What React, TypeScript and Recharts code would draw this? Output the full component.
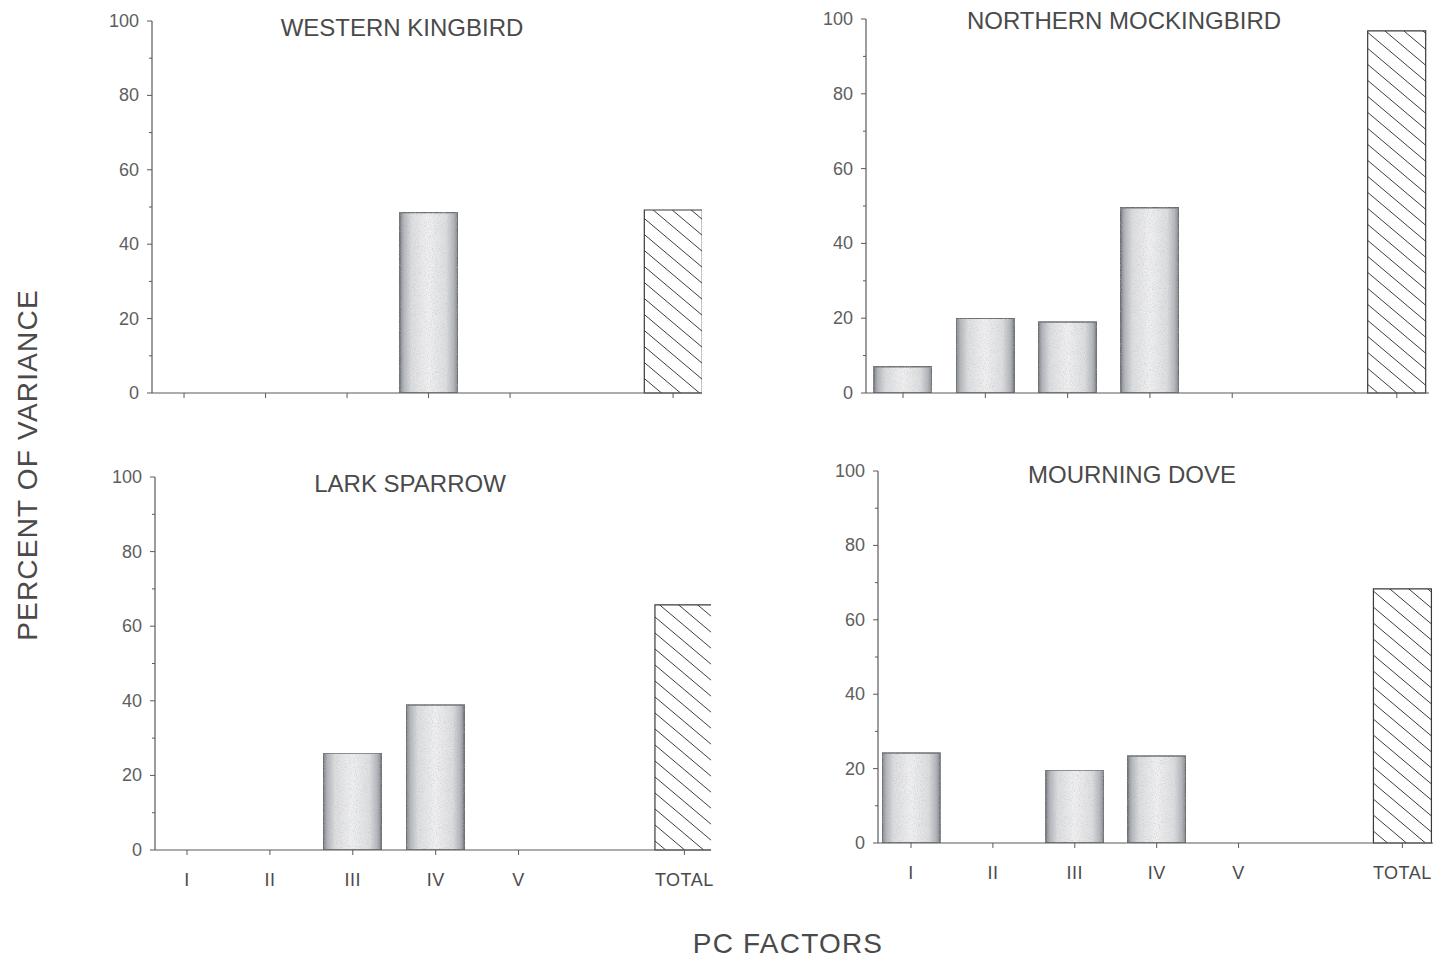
import React from 'react';
import { BarChart, Bar, XAxis, YAxis, Cell } from 'recharts';

// PC factor categories; TOTAL sits one empty slot to the right of V
const factorLabels = ['I', 'II', 'III', 'IV', 'V', 'TOTAL'];
const factorSlots = [1, 2, 3, 4, 5, 7];

// Percent of variance explained per factor, by species
const westernKingbird = [0, 0, 0, 48.5, 0, 49.2];
const northernMockingbird = [7, 20, 19, 49.5, 0, 96.8];
const larkSparrow = [0, 0, 26, 38.9, 0, 65.7];
const mourningDove = [24.2, 0, 19.6, 23.4, 0, 68.3];

const yTicks = [0, 10, 20, 30, 40, 50, 60, 70, 80, 90, 100];

const INK = '#4a4a4a';
const AXIS = '#5a5a5a';
const FONT = '"Liberation Sans", Arial, Helvetica, sans-serif';

type Panel = {
  title: string;
  values: number[];
  axisX: number;
  top: number;
  plotW: number;
  plotH: number;
  domain: [number, number];
  titleX: number;
  titleY: number;
  showLabels: boolean;
};

const panels: Panel[] = [
  {
    title: 'WESTERN KINGBIRD',
    values: westernKingbird,
    axisX: 152,
    top: 21,
    plotW: 550,
    plotH: 372,
    domain: [0.607, 7.355],
    titleX: 402,
    titleY: 28,
    showLabels: false,
  },
  {
    title: 'NORTHERN MOCKINGBIRD',
    values: northernMockingbird,
    axisX: 866,
    top: 19,
    plotW: 563,
    plotH: 374,
    domain: [0.55, 7.391],
    titleX: 1124,
    titleY: 21,
    showLabels: false,
  },
  {
    title: 'LARK SPARROW',
    values: larkSparrow,
    axisX: 155,
    top: 477,
    plotW: 556,
    plotH: 373,
    domain: [0.614, 7.321],
    titleX: 410,
    titleY: 484,
    showLabels: true,
  },
  {
    title: 'MOURNING DOVE',
    values: mourningDove,
    axisX: 878,
    top: 471,
    plotW: 555,
    plotH: 372,
    domain: [0.597, 7.374],
    titleX: 1132,
    titleY: 475,
    showLabels: true,
  },
];

const Y_AXIS_W = 55;
const M_LEFT = 15;
const M_TOP = 20;
const M_RIGHT = 15;
const X_AXIS_H = 50;
const LEFT_SPACE = M_LEFT + Y_AXIS_W;

const YTick = (props: any) => {
  const { x, y, payload } = props;
  const v = payload.value as number;
  const major = v % 20 === 0;
  return (
    <g>
      <line x1={x - (major ? 5 : 3)} x2={x} y1={y} y2={y} stroke={AXIS} strokeWidth={1} />
      {major && (
        <text
          x={x - 13}
          y={y}
          textAnchor="end"
          dominantBaseline="central"
          fontSize={18}
          fill="#5e5e5e"
          fontFamily={FONT}
        >
          {v}
        </text>
      )}
    </g>
  );
};

const makeXTick = (showLabels: boolean) => (props: any) => {
  const { x, y, payload } = props;
  const idx = factorSlots.indexOf(payload.value);
  return (
    <g>
      <line x1={x} x2={x} y1={y} y2={y + 5} stroke={AXIS} strokeWidth={1} />
      {showLabels && idx >= 0 && (
        <text
          x={x}
          y={y + 30}
          textAnchor="middle"
          dominantBaseline="central"
          fontSize={18}
          letterSpacing={0.5}
          fill={INK}
          fontFamily={FONT}
        >
          {factorLabels[idx]}
        </text>
      )}
    </g>
  );
};

const SpeciesChart = ({ p }: { p: Panel }) => {
  const data = factorLabels.map((label, i) => ({
    label,
    slot: factorSlots[i],
    value: p.values[i],
  }));
  const width = LEFT_SPACE + p.plotW + M_RIGHT;
  const height = M_TOP + p.plotH + X_AXIS_H;
  const boxLeft = p.axisX - LEFT_SPACE;
  const boxTop = p.top - M_TOP;
  return (
    <div style={{ position: 'absolute', left: boxLeft, top: boxTop }}>
      <BarChart
        width={width}
        height={height}
        data={data}
        margin={{ top: M_TOP, left: M_LEFT, right: M_RIGHT, bottom: 0 }}
      >
        <XAxis
          type="number"
          dataKey="slot"
          domain={p.domain}
          allowDataOverflow
          ticks={factorSlots}
          interval={0}
          height={X_AXIS_H}
          tickSize={0}
          tickMargin={0}
          tickLine={false}
          axisLine={{ stroke: AXIS, strokeWidth: 1.2 }}
          tick={makeXTick(p.showLabels)}
        />
        <YAxis
          type="number"
          domain={[0, 100]}
          ticks={yTicks}
          interval={0}
          width={Y_AXIS_W}
          tickSize={0}
          tickMargin={0}
          tickLine={false}
          axisLine={{ stroke: AXIS, strokeWidth: 1.2 }}
          tick={<YTick />}
        />
        <Bar dataKey="value" barSize={58} isAnimationActive={false}>
          {data.map((d) =>
            d.label === 'TOTAL' ? (
              <Cell key={d.label} fill="url(#totalHatch)" stroke="#3a3a3a" strokeWidth={1.2} />
            ) : (
              <Cell
                key={d.label}
                fill="url(#factorShade)"
                stroke="#6a6d70"
                strokeWidth={1.5}
                filter="url(#stipple)"
              />
            )
          )}
        </Bar>
      </BarChart>
      <div
        style={{
          position: 'absolute',
          left: p.titleX - boxLeft - 250,
          top: p.titleY - boxTop - 14,
          width: 500,
          textAlign: 'center',
          fontFamily: FONT,
          fontSize: 24,
          lineHeight: '28px',
          color: INK,
          whiteSpace: 'nowrap',
        }}
      >
        {p.title}
      </div>
    </div>
  );
};

export default function App() {
  return (
    <div
      style={{
        position: 'absolute',
        left: 0,
        top: 0,
        width: 1443,
        height: 962,
        background: '#ffffff',
        overflow: 'hidden',
      }}
    >
      <svg width={0} height={0} style={{ position: 'absolute' }}>
        <defs>
          <linearGradient id="factorShade" x1="0" y1="0" x2="1" y2="0">
            <stop offset="0%" stopColor="#80858b" />
            <stop offset="7%" stopColor="#b2b5b9" />
            <stop offset="20%" stopColor="#dcdddf" />
            <stop offset="50%" stopColor="#f0f0f1" />
            <stop offset="80%" stopColor="#dcdddf" />
            <stop offset="93%" stopColor="#b2b5b9" />
            <stop offset="100%" stopColor="#80858b" />
          </linearGradient>
          {/* fine grain over the shaded factor bars */}
          <filter id="stipple" x="0" y="0" width="1" height="1">
            <feTurbulence type="fractalNoise" baseFrequency="0.95" numOctaves={2} seed={4} result="noise" />
            <feColorMatrix
              in="noise"
              type="matrix"
              values="0 0 0 0 0.45  0 0 0 0 0.47  0 0 0 0 0.5  1.3 0 0 0 -0.6"
              result="speck"
            />
            <feComposite in="speck" in2="SourceGraphic" operator="in" result="speckIn" />
            <feMerge>
              <feMergeNode in="SourceGraphic" />
              <feMergeNode in="speckIn" />
            </feMerge>
          </filter>
          <pattern id="totalHatch" patternUnits="userSpaceOnUse" width={19} height={16}>
            <rect width={19} height={16} fill="#ffffff" />
            <path
              d="M-2,-1.68 L21,17.68 M-3,13.47 L3,18.53 M16,-2.53 L22,2.53"
              stroke="#3c3c3c"
              strokeWidth={1}
            />
          </pattern>
        </defs>
      </svg>

      {panels.map((p) => (
        <SpeciesChart key={p.title} p={p} />
      ))}

      <div
        style={{
          position: 'absolute',
          left: 28 - 250,
          top: 465 - 18,
          width: 500,
          height: 36,
          lineHeight: '36px',
          textAlign: 'center',
          transform: 'rotate(-90deg)',
          fontFamily: FONT,
          fontSize: 28,
          letterSpacing: 1.2,
          color: INK,
          whiteSpace: 'nowrap',
        }}
      >
        PERCENT OF VARIANCE
      </div>
      <div
        style={{
          position: 'absolute',
          left: 788 - 250,
          top: 944 - 18,
          width: 500,
          height: 36,
          lineHeight: '36px',
          textAlign: 'center',
          fontFamily: FONT,
          fontSize: 28,
          letterSpacing: 1.2,
          color: INK,
          whiteSpace: 'nowrap',
        }}
      >
        PC FACTORS
      </div>
    </div>
  );
}
